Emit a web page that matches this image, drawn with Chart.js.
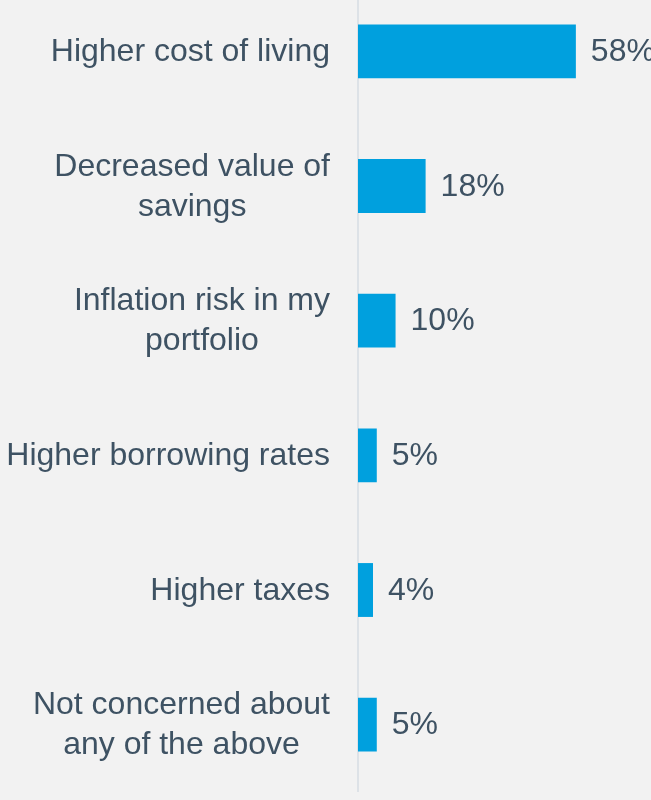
<!DOCTYPE html>
<html>
<head>
<meta charset="utf-8">
<script src="https://cdn.jsdelivr.net/npm/chart.js@4"></script>
<style>
  html, body { margin: 0; padding: 0; background: #f2f2f2; overflow: hidden; }
  #wrap { position: absolute; left: 0; top: -16px; width: 651px; height: 808px; }
</style>
</head>
<body>
<div id="wrap"><canvas id="chart"></canvas></div>
<script>
const categories = [
  "Higher cost of living",
  ["Decreased value of", "savings"],
  ["Inflation risk in my", "portfolio"],
  "Higher borrowing rates",
  "Higher taxes",
  ["Not concerned about", "any of the above"]
];
const values = [58, 18, 10, 5, 4, 5];

const textColor = "#3e5263";
const barColor = "#00a0de";
const fontStr = "32px 'Liberation Sans', Arial, sans-serif";

// category labels: right edge at 330, extra lines centred under the first
const categoryLabels = {
  id: "categoryLabels",
  afterDraw: function (chart) {
    var ctx = chart.ctx;
    var yScale = chart.scales.y;
    var right = chart.chartArea.left - 28;
    var lineH = 40;
    ctx.save();
    ctx.font = fontStr;
    ctx.fillStyle = textColor;
    ctx.textBaseline = "middle";
    ctx.textAlign = "center";
    categories.forEach(function (label, i) {
      var lines = Array.isArray(label) ? label : [label];
      var w = 0;
      lines.forEach(function (l) { w = Math.max(w, ctx.measureText(l).width); });
      var cx = right - w / 2;
      var y0 = yScale.getPixelForValue(i) - (lines.length - 1) * lineH / 2;
      lines.forEach(function (l, j) {
        ctx.fillText(l, cx, y0 + j * lineH + 1);
      });
    });
    ctx.restore();
  }
};

// draws the "58%" style labels at the end of each bar
const valueLabels = {
  id: "valueLabels",
  afterDatasetsDraw: function (chart) {
    var ctx = chart.ctx;
    var meta = chart.getDatasetMeta(0);
    ctx.save();
    ctx.font = fontStr;
    ctx.fillStyle = textColor;
    ctx.textAlign = "left";
    ctx.textBaseline = "middle";
    meta.data.forEach(function (bar, i) {
      ctx.fillText(values[i] + "%", bar.x + 15, bar.y + 1);
    });
    ctx.restore();
  }
};

var ctx = document.getElementById("chart").getContext("2d");
var myChart = new Chart(ctx, {
  type: "bar",
  data: {
    labels: categories,
    datasets: [
      {
        data: values,
        backgroundColor: barColor,
        barPercentage: 0.8,
        categoryPercentage: 0.5
      }
    ]
  },
  plugins: [valueLabels, categoryLabels],
  options: {
    indexAxis: "y",
    responsive: true,
    maintainAspectRatio: false,
    animation: false,
    layout: { padding: 0 },
    plugins: {
      legend: { display: false },
      tooltip: { enabled: false }
    },
    scales: {
      x: {
        display: false,
        min: 0,
        max: 78
      },
      y: {
        grid: { display: false, drawTicks: false },
        border: { display: true, color: "#dde2e7", width: 2 },
        ticks: { display: false },
        afterFit: function (scale) {
          scale.width = 358;
          scale.paddingTop = 0;
          scale.paddingBottom = 0;
        }
      }
    }
  }
});
</script>
</body>
</html>
